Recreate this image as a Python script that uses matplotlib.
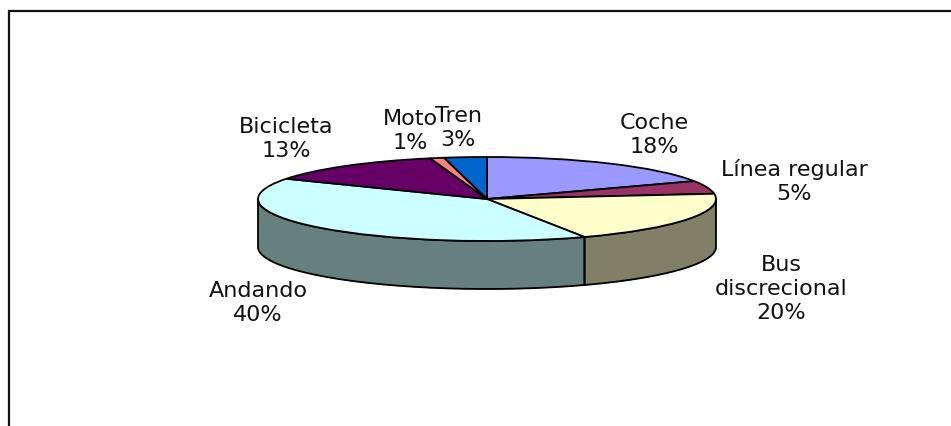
import numpy as np
import matplotlib
matplotlib.use("Agg")
import matplotlib.pyplot as plt

labels = ["Coche", "Línea regular", "Bus\ndiscrecional", "Andando", "Bicicleta", "Moto", "Tren"]
values = [18, 5, 20, 40, 13, 1, 3]
colors = ["#9999FF", "#993366", "#FFFFCC", "#CCFFFF", "#660066", "#FF8080", "#0066CC"]
side_colors = ["#7A7ACC", "#7A2952", "#808066", "#668080", "#520052", "#CC6666", "#0052A3"]

W, H = 951, 427
cx, cy = 487, 200
rx, ry = 229, 42
depth = 48 / ry

plt.rcParams['font.family'] = ['DejaVu Sans']

fig = plt.figure(figsize=(W / 100, H / 100), dpi=100)
ax = fig.add_axes([0, 0, 1, 1])
ax.axis("off")

# side of the cake: only the front half shows
start = 90.0
for val, side in zip(values, side_colors):
    end = start - val * 3.6
    a0, a1 = max(end, -180.0), min(start, 0.0)
    if a1 > a0:
        t = np.radians(np.linspace(a0, a1, 80))
        xs = np.cos(t)
        ax.fill_between(xs, np.sin(t), np.sin(t) - depth, color=side, lw=0, zorder=1)
        ax.plot(np.r_[xs, xs[::-1], xs[0]],
                np.r_[np.sin(t), np.sin(t)[::-1] - depth, np.sin(t)[0]],
                color="black", lw=1.3, zorder=2)
    start = end

# top of the cake
wedges, _ = ax.pie(values, colors=colors, startangle=90, counterclock=False, radius=1,
                   wedgeprops=dict(edgecolor="black", linewidth=1.3), frame=False)
for w in wedges:
    w.set_zorder(3)
ax.set_aspect("auto")
ax.set_xlim(-cx / rx, (W - cx) / rx)
ax.set_ylim(-(H - cy) / ry, cy / ry)

# label centres in picture pixels
label_pos = [(654, 135), (794, 181), (781, 289), (258, 303), (286, 139), (410, 131), (458, 128)]
for lab, val, (px, py) in zip(labels, values, label_pos):
    ax.text((px - cx) / rx, (cy - py) / ry, "%s\n%d%%" % (lab, val), ha="center", va="center",
            fontsize=16, color="#111111", linespacing=1.25, zorder=5)

# chart frame, open on the right and at the bottom
fig.add_artist(plt.Line2D([8.5 / W, 8.5 / W, 1], [0, 1 - 11.5 / H, 1 - 11.5 / H],
                          color="#111111", lw=1.6, solid_joinstyle="miter"))

fig.savefig("out.png", dpi=100, facecolor="white")
